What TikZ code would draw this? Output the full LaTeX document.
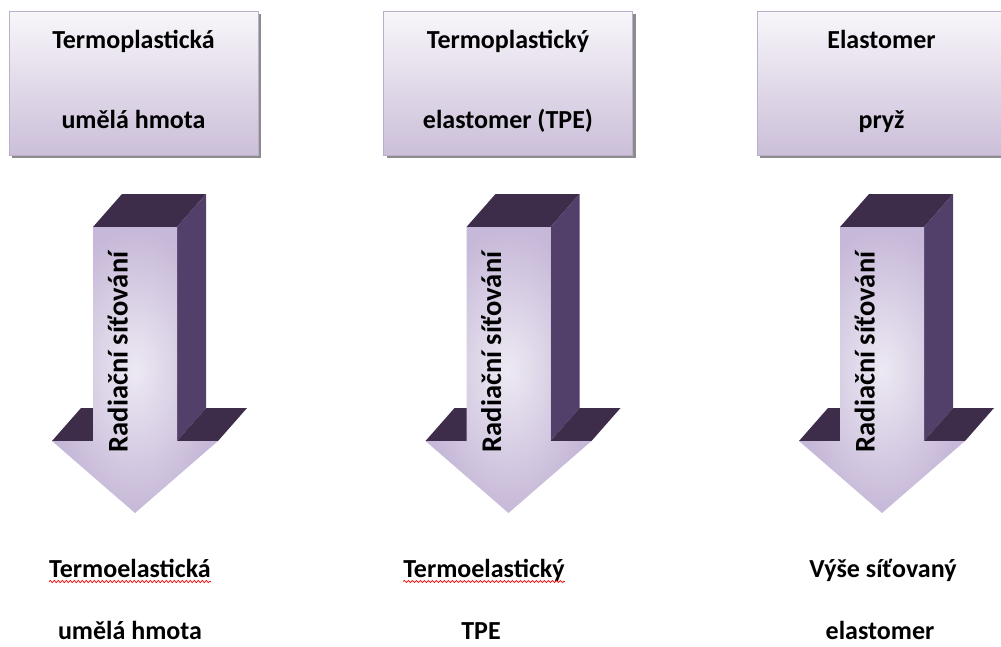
\documentclass[tikz,border=0pt]{standalone}
\usepackage{fontspec}
\setmainfont{Carlito}
\usetikzlibrary{decorations.pathmorphing}
\definecolor{topface}{HTML}{3D2D4B}
\definecolor{sideface}{HTML}{52406A}
\definecolor{frontin}{HTML}{EDE9F3}
\definecolor{frontout}{HTML}{C6B8D8}
\definecolor{boxtop}{HTML}{F8F6FA}
\definecolor{boxbot}{HTML}{CBBFD9}
\definecolor{boxline}{HTML}{BCAECD}
\tikzset{
  boxstyle/.style={draw=boxline, line width=0.8pt, top color=boxtop, bottom color=boxbot, minimum width=249pt, minimum height=144pt, inner sep=0pt},
  boxshadow/.style={fill=black!45},
  boxtext/.style={font=\fontsize{26}{30}\selectfont\bfseries, anchor=base, inner sep=0pt},
  arrowtext/.style={font=\fontsize{28.5}{32}\selectfont\bfseries, anchor=base, rotate=90, inner sep=0pt},
  squiggle/.style={draw=red, line width=0.7pt, decorate, decoration={snake, segment length=4pt, amplitude=1.1pt}},
}
\newcommand{\bigarrow}[1]{%
  \fill[topface] (#1-42,227) -- (#1+42,227) -- (#1+71,194) -- (#1-13,194) -- cycle;
  \fill[sideface] (#1+42,227) -- (#1+71,194) -- (#1+71,408) -- (#1+42,441) -- cycle;
  \fill[topface] (#1-83,441) -- (#1-54,408) -- (#1-13,408) -- (#1-42,441) -- cycle;
  \fill[topface] (#1+42,441) -- (#1+83,441) -- (#1+112,408) -- (#1+71,408) -- cycle;
  \shade[inner color=frontin, outer color=frontout] (#1-42,227) -- (#1+42,227) -- (#1+42,441) -- (#1+83,441) -- (#1,513) -- (#1-83,441) -- (#1-42,441) -- cycle;
}
\begin{document}
\begin{tikzpicture}[x=1pt, y=-1pt]
\clip (0,0) rectangle (1001,646);
\fill[white] (0,0) rectangle (1001,646);
% boxes
\foreach \cx/\nm in {133.5/b1, 508/b2, 881.5/b3}{
  \fill[boxshadow] (\cx-124.5+3,11+3) rectangle (\cx+124.5+3,155+3);
  \node[boxstyle] (\nm) at (\cx,83) {};
}
\node[boxtext] (b1a) at (133.5,48) {Termoplastická};
\node[boxtext] (b1b) at (133.5,128) {umělá hmota};
\node[boxtext] (b2a) at (508,48) {Termoplastický};
\node[boxtext] (b2b) at (508,128) {elastomer (TPE)};
\node[boxtext] (b3a) at (881.5,48) {Elastomer};
\node[boxtext] (b3b) at (881.5,128) {pryž};
% arrows
\bigarrow{135}
\bigarrow{508.5}
\bigarrow{882}
\node[arrowtext] (r1) at (127.5,352) {Radiační síťování};
\node[arrowtext] (r2) at (501,352) {Radiační síťování};
\node[arrowtext] (r3) at (874.5,352) {Radiační síťování};
% bottom texts
\node[boxtext] (t1a) at (130,577) {Termoelastická};
\node[boxtext] (t1b) at (130,639) {umělá hmota};
\node[boxtext] (t2a) at (484,577) {Termoelastický};
\node[boxtext] (t2b) at (481,639) {TPE};
\node[boxtext] (t3a) at (883,577) {Výše síťovaný};
\node[boxtext] (t3b) at (880,639) {elastomer};
\draw[squiggle] ([yshift=-4.5pt]t1a.base west) -- ([yshift=-4.5pt]t1a.base east);
\draw[squiggle] ([yshift=-4.5pt]t2a.base west) -- ([yshift=-4.5pt]t2a.base east);
\end{tikzpicture}
\end{document}
